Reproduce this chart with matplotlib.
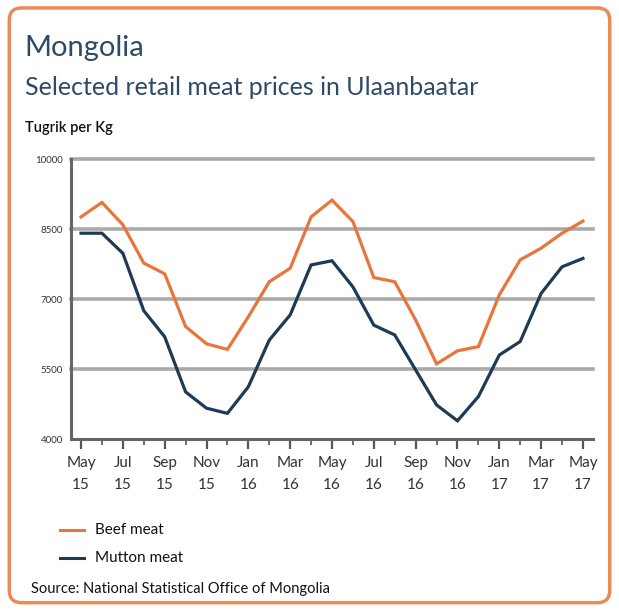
import numpy as np
import matplotlib
matplotlib.use("Agg")
import matplotlib.pyplot as plt
from matplotlib.patches import FancyBboxPatch

# monthly data, May 2015 .. May 2017
months = ["May", "Jun", "Jul", "Aug", "Sep", "Oct", "Nov", "Dec", "Jan", "Feb", "Mar", "Apr"]
years = ["15"] * 8 + ["16"] * 12 + ["17"] * 5
month_names = (months * 3)[:25]

beef = [8760, 9070, 8590, 7770, 7540, 6410, 6040, 5920, 6620, 7370, 7660, 8760,
        9120, 8660, 7460, 7370, 6550, 5610, 5890, 5980, 7090, 7840, 8090, 8410, 8670]
mutton = [8410, 8410, 7980, 6750, 6190, 5010, 4660, 4550, 5120, 6120, 6660, 7730,
          7820, 7260, 6440, 6230, 5480, 4730, 4390, 4910, 5800, 6090, 7120, 7690, 7870]

yticks = [4000, 5500, 7000, 8500, 10000]

beef_col = "#e8763c"
mutton_col = "#1f3a55"
title_col = "#2e4a68"

plt.rcParams["font.family"] = ["Lato", "DejaVu Sans"]

fig = plt.figure(figsize=(6.19, 6.10), dpi=100)

# rounded orange frame, kept behind the axes
frame = FancyBboxPatch((0.015, 0.012), 0.97, 0.975,
                       boxstyle="round,pad=0,rounding_size=0.02",
                       transform=fig.transFigure, facecolor="white",
                       edgecolor="#ec8a55", linewidth=2.5, zorder=-5)
fig.patches.append(frame)

fig.text(0.04, 0.922, "Mongolia", fontsize=21, color=title_col, va="center")
fig.text(0.04, 0.856, "Selected retail meat prices in Ulaanbaatar", fontsize=18,
         color=title_col, va="center")
fig.text(0.04, 0.79, "Tugrik per Kg", fontsize=10.5, color="#111111", va="center",
         fontweight="semibold")

ax = fig.add_axes([0.1147, 0.2803, 0.8433, 0.459])
ax.patch.set_alpha(0)
x = np.arange(len(beef))
ax.plot(x, beef, color=beef_col, lw=2.3, solid_joinstyle="miter")
ax.plot(x, mutton, color=mutton_col, lw=2.3, solid_joinstyle="miter")

ax.set_xlim(-0.48, 24.48)
ax.set_ylim(4000, 10000)
ax.set_yticks(yticks)
ax.set_yticklabels([str(v) for v in yticks], fontsize=7, color="#333333")
ax.tick_params(axis="y", length=0, pad=6)
for v in yticks[1:]:
    ax.axhline(v, color="#aaaaaa", lw=2.6, zorder=0, clip_on=False)

ax.set_xticks(x[::2])
ax.set_xticklabels([f"{month_names[i]}\n{years[i]}" for i in x[::2]],
                   fontsize=11, color="#333333", linespacing=1.75)
ax.set_xticks(x[1::2], minor=True)
ax.tick_params(axis="x", which="major", length=7, width=1.6, color="#555555", pad=5)
ax.tick_params(axis="x", which="minor", length=4, width=1.2, color="#555555")

for s in ["top", "right"]:
    ax.spines[s].set_visible(False)
ax.spines["left"].set_color("#666666")
ax.spines["left"].set_linewidth(2.2)
ax.spines["bottom"].set_color("#666666")
ax.spines["bottom"].set_linewidth(2.2)

# legend
lx0, lx1 = 0.097, 0.135
fig.lines.append(plt.Line2D([lx0, lx1], [0.131, 0.131], color=beef_col, lw=2.2,
                            transform=fig.transFigure))
fig.lines.append(plt.Line2D([lx0, lx1], [0.086, 0.086], color=mutton_col, lw=2.2,
                            transform=fig.transFigure))
fig.text(0.153, 0.131, "Beef meat", fontsize=11, color="#111111", va="center")
fig.text(0.153, 0.086, "Mutton meat", fontsize=11, color="#111111", va="center")

fig.text(0.05, 0.034, "Source: National Statistical Office of Mongolia", fontsize=10.5,
         color="#111111", va="center")

fig.savefig("out.png", dpi=100)
